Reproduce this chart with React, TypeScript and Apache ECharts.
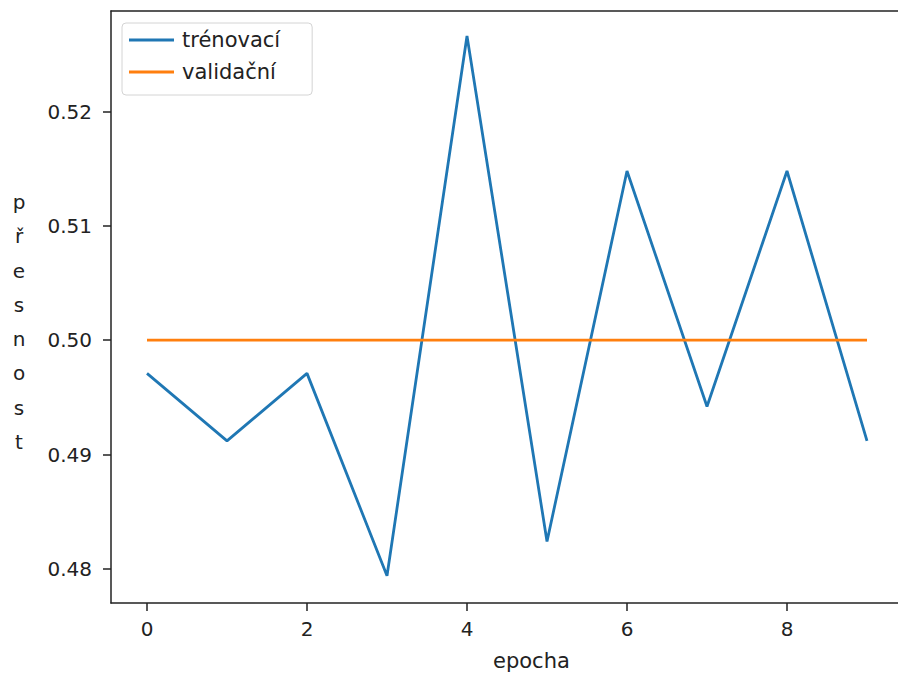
import React, { useEffect, useRef } from "react";
import * as echarts from "echarts";

const epochs = [0, 1, 2, 3, 4, 5, 6, 7, 8, 9];
const trainAcc = [0.4971, 0.4912, 0.4971, 0.4794, 0.5266, 0.4824, 0.5148, 0.4942, 0.5148, 0.4912];
const valAcc = [0.5, 0.5, 0.5, 0.5, 0.5, 0.5, 0.5, 0.5, 0.5, 0.5];
const xTicks = [0, 2, 4, 6, 8];
const yTicks = [0.48, 0.49, 0.5, 0.51, 0.52];
const seriesNames = ["trénovací", "validační"];
const xLabel = "epocha";
const yLabel = "přesnost";

const FONT = "DejaVu Sans";
const AX = "#222";
const X_MIN = -0.45;
const X_MAX = 9.45;

export default function App() {
  const ref = useRef<HTMLDivElement>(null);
  useEffect(() => {
    if (!ref.current) return;
    const chart = echarts.init(ref.current, undefined, { renderer: "svg" });
    chart.setOption({
      animation: false,
      backgroundColor: "#fff",
      textStyle: { fontFamily: FONT },
      grid: {
        left: 111,
        top: 11,
        width: 792,
        bottom: 72,
        show: false,
      },
      legend: {
        orient: "vertical",
        left: 122,
        top: 23,
        padding: [6, 32, 12, 7],
        itemWidth: 45,
        itemHeight: 3,
        itemGap: 10,
        borderColor: "#d4d4d4",
        borderWidth: 1,
        borderRadius: 4,
        backgroundColor: "#fff",
        textStyle: { fontFamily: FONT, fontSize: 21, color: "#222", lineHeight: 22, padding: [0, 0, 0, 3] },
        data: seriesNames.map((n) => ({ name: n, icon: "rect" })),
      },
      xAxis: [
        {
          type: "value",
          min: X_MIN,
          max: X_MAX,
          splitLine: { show: false },
          axisLine: { show: true, onZero: false, lineStyle: { color: AX, width: 1.5 } },
          axisTick: { show: true, length: 8, customValues: xTicks, lineStyle: { color: AX, width: 1.5 } },
          axisLabel: {
            customValues: xTicks,
            margin: 16,
            fontFamily: FONT,
            fontSize: 20,
            color: "#222",
            formatter: (v: number) => String(v),
          },
        },
        {
          type: "value",
          position: "top",
          min: X_MIN,
          max: X_MAX,
          splitLine: { show: false },
          axisLine: { show: true, onZero: false, lineStyle: { color: AX, width: 1.5 } },
          axisTick: { show: false },
          axisLabel: { show: false },
        },
      ],
      yAxis: {
        type: "value",
        min: 0.47702,
        max: 0.52879,
        splitLine: { show: false },
        axisLine: { show: true, onZero: false, lineStyle: { color: AX, width: 1.5 } },
        axisTick: { show: true, length: 8, customValues: yTicks, lineStyle: { color: AX, width: 1.5 } },
        axisLabel: {
          customValues: yTicks,
          margin: 19,
          fontFamily: FONT,
          fontSize: 20,
          color: "#222",
          formatter: (v: number) => v.toFixed(2),
        },
      },
      graphic: [
        {
          type: "text",
          left: 533 - 40,
          top: 650,
          style: {
            text: xLabel,
            fontFamily: FONT,
            fontSize: 21,
            fill: "#222",
          },
        },
        {
          type: "text",
          x: 19,
          y: 322,
          style: {
            text: yLabel.split("").join("\n"),
            fontFamily: FONT,
            fontSize: 20,
            lineHeight: 34.3,
            align: "center",
            verticalAlign: "middle",
            fill: "#222",
          },
        },
      ],
      series: [
        {
          name: seriesNames[0],
          type: "line",
          data: epochs.map((e, i) => [e, trainAcc[i]]),
          symbol: "none",
          lineStyle: { color: "#1f77b4", width: 2.8 },
          itemStyle: { color: "#1f77b4" },
        },
        {
          name: seriesNames[1],
          type: "line",
          data: epochs.map((e, i) => [e, valAcc[i]]),
          symbol: "none",
          lineStyle: { color: "#ff7f0e", width: 2.8 },
          itemStyle: { color: "#ff7f0e" },
        },
      ],
    });
    return () => chart.dispose();
  }, []);
  return (
    <div
      style={{ position: "absolute", left: 0, top: 0, width: 898, height: 675, overflow: "hidden", background: "#fff" }}
    >
      <div ref={ref} style={{ position: "absolute", left: 0, top: 0, width: 940, height: 675 }} />
    </div>
  );
}
